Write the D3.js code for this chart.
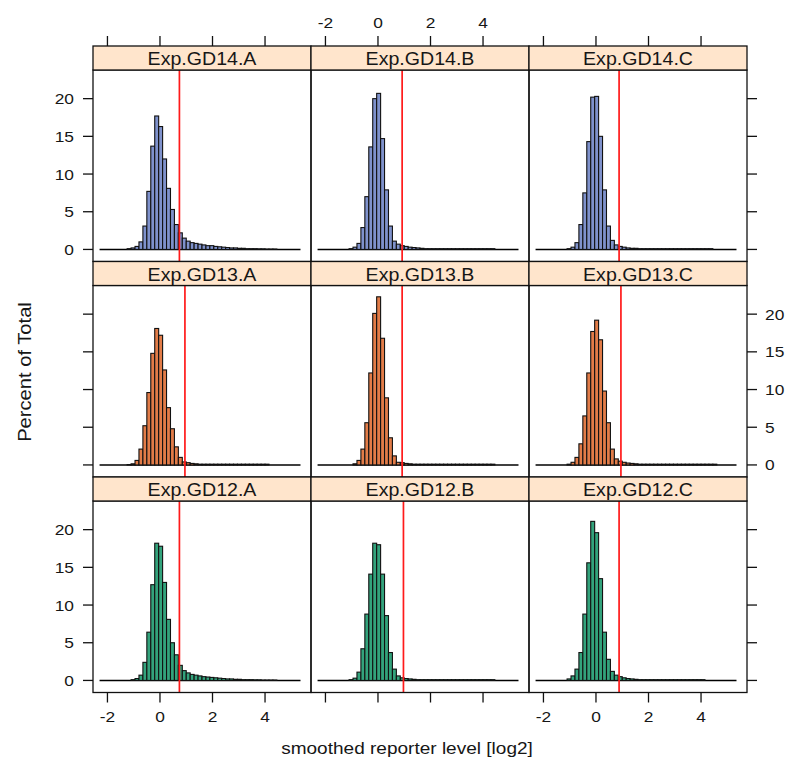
<!DOCTYPE html>
<html><head><meta charset="utf-8">
<script src="https://cdn.jsdelivr.net/npm/d3@7"></script>
<style>body{margin:0;background:#fff}svg{display:block}</style>
</head><body>
<svg id="c" width="800" height="782"></svg>
<script>
// histogram breaks (shared by all panels), bin width 0.15
const breakStart = -2.3, binWidth = 0.15, nBins = 51;
const breaks = d3.range(nBins + 1).map(k => +(breakStart + binWidth * k).toFixed(3));

// percent of total per bin
const gd14A = [0,0,0,0,0,0,0,0.1,0.2,0.4,1.0,3.1,7.7,13.7,17.7,16.3,12.0,8.1,5.3,3.3,2.2,1.5,1.1,0.9,0.8,0.7,0.6,0.5,0.5,0.4,0.35,0.3,0.25,0.2,0.2,0.15,0.15,0.1,0.1,0.1,0.08,0.08,0.05,0.05,0.05,0,0,0,0,0,0];
const gd14B = [0,0,0,0,0,0,0,0,0.1,0.3,0.8,2.9,7.0,13.6,20.0,20.7,14.7,7.9,3.1,1.1,0.7,0.5,0.4,0.3,0.25,0.2,0.15,0.1,0.1,0.1,0.1,0.1,0.1,0.1,0.1,0.1,0.1,0.1,0.1,0.1,0.1,0.1,0.1,0.1,0.1,0,0,0,0,0,0];
const gd14C = [0,0,0,0,0,0,0,0,0.1,0.3,0.9,3.3,7.5,14.3,20.2,20.3,15.0,7.9,3.1,1.2,0.6,0.4,0.3,0.2,0.15,0.15,0.1,0.1,0.1,0.1,0.1,0.1,0.1,0.1,0.1,0.1,0.1,0.1,0.1,0.1,0.1,0.1,0.1,0.1,0.1,0,0,0,0,0,0];
const gd13A = [0,0,0,0,0,0,0,0.05,0.15,0.6,2.1,5.2,9.6,14.8,18.1,17.2,12.6,7.6,4.8,2.4,1.0,0.4,0.3,0.2,0.15,0.1,0.1,0.1,0.1,0.1,0.1,0.1,0.1,0.1,0.1,0.1,0.1,0.1,0.1,0.1,0.1,0.1,0.1,0,0,0,0,0,0,0,0];
const gd13B = [0,0,0,0,0,0,0,0,0,0.15,0.6,2.1,5.6,12.2,20.1,22.3,16.8,8.9,3.6,1.2,0.35,0.3,0.2,0.15,0.1,0.1,0.1,0.1,0.1,0.1,0.1,0.1,0.1,0.1,0.1,0.1,0.1,0.1,0.1,0.1,0.1,0.1,0.1,0.1,0.1,0,0,0,0,0,0];
const gd13C = [0,0,0,0,0,0,0,0,0.1,0.35,1.0,2.8,6.5,12.2,17.7,19.2,16.6,9.8,5.6,2.1,0.8,0.5,0.35,0.25,0.2,0.15,0.1,0.1,0.1,0.1,0.1,0.1,0.1,0.1,0.1,0.1,0.1,0.1,0.1,0.1,0.1,0.1,0.1,0.1,0.1,0.1,0,0,0,0,0];
const gd12A = [0,0,0,0,0,0,0,0,0.1,0.25,0.7,2.4,6.4,12.7,18.2,17.8,13.0,8.1,5.0,3.4,2.0,1.3,1.0,0.8,0.7,0.6,0.5,0.45,0.4,0.35,0.3,0.25,0.2,0.2,0.15,0.15,0.1,0.1,0.1,0.08,0.08,0.05,0.05,0.05,0.05,0,0,0,0,0,0];
const gd12B = [0,0,0,0,0,0,0,0,0.1,0.3,1.1,4.2,8.8,14.1,18.2,18.0,14.1,8.6,3.7,1.5,0.6,0.35,0.25,0.2,0.15,0.1,0.1,0.1,0.1,0.1,0.1,0.1,0.1,0.1,0.1,0.1,0.1,0.1,0.1,0.1,0.1,0.1,0.1,0.1,0.1,0,0,0,0,0,0];
const gd12C = [0,0,0,0,0,0,0,0,0.2,0.6,1.5,3.7,8.8,15.6,21.1,19.6,13.5,6.4,2.8,1.2,0.7,0.5,0.35,0.25,0.2,0.15,0.1,0.1,0.1,0.1,0.1,0.1,0.1,0.1,0.1,0.1,0.1,0.1,0.1,0.1,0.1,0.1,0.1,0,0,0,0,0,0,0,0];

const panelNames = ["Exp.GD14.A","Exp.GD14.B","Exp.GD14.C","Exp.GD13.A","Exp.GD13.B","Exp.GD13.C","Exp.GD12.A","Exp.GD12.B","Exp.GD12.C"];
const panelValues = [gd14A,gd14B,gd14C,gd13A,gd13B,gd13C,gd12A,gd12B,gd12C];
const thresholds = [0.74,0.92,0.88,0.95,0.92,0.95,0.74,0.97,0.88];
const rowColors = ["#7f92cc","#e27c48","#33a37c"];
const xTicks = [-2,0,2,4];
const yTicks = [0,5,10,15,20];
const xTitle = "smoothed reporter level [log2]";
const yTitle = "Percent of Total";

// layout
const colLeft = [93, 311, 529], colW = 218;
const stripTop = [46, 261.5, 477], stripH = 24, panelH = 191.5;
const xDomain = [-2.55, 5.75], yDomain = [-1.6, 23.8];
const tickLen = 10;
const FONT = "'Liberation Sans', Arial, sans-serif";
const SX = 1.12; // horizontal stretch of glyphs as in the reference

const svg = d3.select("#c");
function label(x, y, s, anchor, size, rot) {
  svg.append("text")
    .attr("transform", `translate(${x},${y})` + (rot ? ` rotate(${rot})` : "") + ` scale(${SX},1)`)
    .attr("text-anchor", anchor).attr("font-family", FONT).attr("font-size", size)
    .attr("fill", "#161616").text(s);
}

const defs = svg.append("defs");

panelValues.forEach((vals, i) => {
  const r = Math.floor(i / 3), c = i % 3;
  const x0 = colLeft[c], pTop = stripTop[r] + stripH, pBot = pTop + panelH;
  const x = d3.scaleLinear().domain(xDomain).range([x0, x0 + colW]);
  const y = d3.scaleLinear().domain(yDomain).range([pBot, pTop]);

  defs.append("clipPath").attr("id", "clip" + i)
    .append("rect").attr("x", x0).attr("y", pTop).attr("width", colW).attr("height", panelH);

  const g = svg.append("g").attr("clip-path", `url(#clip${i})`);
  const bins = vals.map((v, k) => ({x0: breaks[k], x1: breaks[k + 1], v}));
  // baseline (zero-height bars drawn as line, as in lattice)
  g.append("line")
    .attr("x1", x(breaks[0])).attr("x2", x(breaks[breaks.length - 1]))
    .attr("y1", y(0)).attr("y2", y(0)).attr("stroke", "#000").attr("stroke-width", 1.5);
  g.selectAll("rect.bar").data(bins.filter(b => b.v > 0)).join("rect")
    .attr("class", "bar")
    .attr("x", b => x(b.x0)).attr("width", b => x(b.x1) - x(b.x0))
    .attr("y", b => y(b.v)).attr("height", b => y(0) - y(b.v))
    .attr("fill", rowColors[r]).attr("stroke", "#111").attr("stroke-width", 1.1);
  // red reference line
  g.append("line")
    .attr("x1", x(thresholds[i])).attr("x2", x(thresholds[i]))
    .attr("y1", pTop).attr("y2", pBot).attr("stroke", "#ff1a1a").attr("stroke-width", 1.7);

  // panel border
  svg.append("rect").attr("x", x0).attr("y", pTop).attr("width", colW).attr("height", panelH)
    .attr("fill", "none").attr("stroke", "#111").attr("stroke-width", 1.3);
  // strip
  svg.append("rect").attr("x", x0).attr("y", stripTop[r]).attr("width", colW).attr("height", stripH)
    .attr("fill", "#ffe5cc").attr("stroke", "#111").attr("stroke-width", 1.3);
  label(x0 + colW / 2, stripTop[r] + 19, panelNames[i], "middle", 17.5);

  // x axes: top of first row, bottom of last row
  if (r === 0) {
    xTicks.forEach(t => svg.append("line").attr("x1", x(t)).attr("x2", x(t))
      .attr("y1", stripTop[0]).attr("y2", stripTop[0] - tickLen).attr("stroke", "#111").attr("stroke-width", 1.3));
    if (c === 1) xTicks.forEach(t => label(x(t), 28, String(t), "middle", 15.5));
  }
  if (r === 2) {
    xTicks.forEach(t => svg.append("line").attr("x1", x(t)).attr("x2", x(t))
      .attr("y1", pBot).attr("y2", pBot + tickLen).attr("stroke", "#111").attr("stroke-width", 1.3));
    if (c !== 1) xTicks.forEach(t => label(x(t), pBot + 29, String(t), "middle", 15.5));
  }
  // y axes: left of first column, right of last column
  if (c === 0) {
    yTicks.forEach(t => svg.append("line").attr("x1", x0).attr("x2", x0 - tickLen)
      .attr("y1", y(t)).attr("y2", y(t)).attr("stroke", "#111").attr("stroke-width", 1.3));
    if (r !== 1) yTicks.forEach(t => label(x0 - tickLen - 9, y(t) + 5.5, String(t), "end", 15.5));
  }
  if (c === 2) {
    const xr = x0 + colW;
    yTicks.forEach(t => svg.append("line").attr("x1", xr).attr("x2", xr + tickLen)
      .attr("y1", y(t)).attr("y2", y(t)).attr("stroke", "#111").attr("stroke-width", 1.3));
    if (r === 1) yTicks.forEach(t => label(xr + tickLen + 8, y(t) + 5.5, String(t), "start", 15.5));
  }
});

label(407, 754, xTitle, "middle", 17);
label(31, 372, yTitle, "middle", 18, -90);
</script>
</body></html>
